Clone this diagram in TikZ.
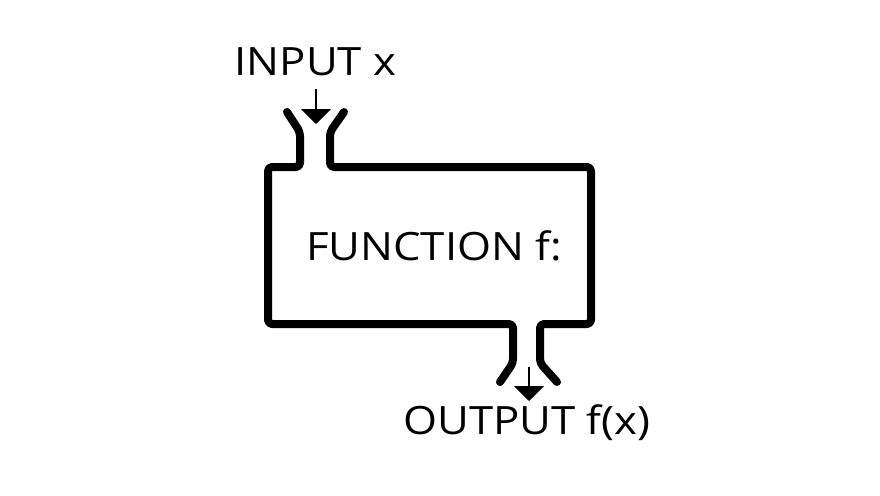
\documentclass[tikz,border=0pt]{standalone}
\usepackage{fontspec}
\setmainfont{Open Sans}[FakeStretch=1.12]
\usetikzlibrary{arrows.meta}
\begin{document}
\begin{tikzpicture}[x=1pt,y=-1pt,
  outline/.style={line width=8pt,line cap=round,line join=round,rounded corners=4pt},
  flow/.style={line width=2pt,-{Triangle[length=15pt,width=30pt]}},
  lbl/.style={font=\fontsize{39}{44}\selectfont,inner sep=0pt,anchor=base}]
\useasboundingbox (0,0) rectangle (880,495);
\draw[outline] (287,112) -- (300,132) -- (300,167) -- (268,167) -- (268,324)
  -- (513,324) -- (513,363) -- (500,382);
\draw[outline] (344,112) -- (330,132) -- (330,167) -- (591,167) -- (591,324)
  -- (540,324) -- (540,363) -- (557,382);
\node[lbl] (in) at (315.5,75) {INPUT x};
\node[lbl] (fn) at (434,260) {FUNCTION f:};
\node[lbl] (out) at (527,434) {OUTPUT f(x)};
\coordinate (inA) at (316,89);
\coordinate (inB) at (316,124);
\coordinate (outA) at (529,367);
\coordinate (outB) at (529,401);
\draw[flow] (inA) -- (inB);
\draw[flow] (outA) -- (outB);
\end{tikzpicture}
\end{document}
